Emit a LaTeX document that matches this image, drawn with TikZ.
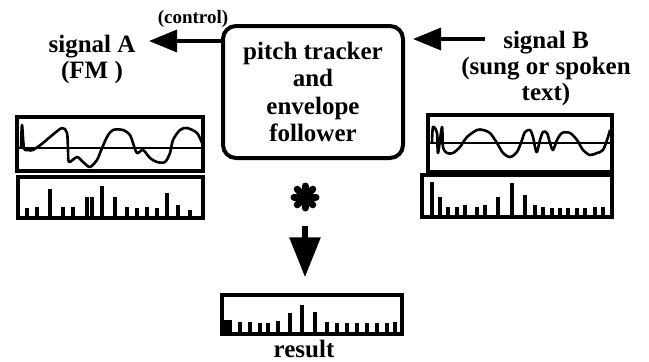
\documentclass[tikz,border=0pt]{standalone}
\usepackage{fontspec}
\setmainfont{Liberation Serif}
\usetikzlibrary{arrows.meta}

\tikzset{
  bigtext/.style={font=\bfseries\fontsize{25}{26}\selectfont, inner sep=0pt, align=center},
  smalltext/.style={font=\bfseries\fontsize{19}{20}\selectfont, inner sep=0pt},
  trackerbox/.style={draw, line width=4pt, rounded corners=13pt, inner sep=0pt,
    font=\bfseries\fontsize{25}{27.5}\selectfont, align=center},
  frame/.style={draw, line width=3.5pt, inner sep=0pt},
  bigarrow/.style={line width=3.5pt, -{Triangle[length=28pt,width=22pt]}},
  wave/.style={line width=2.6pt, line join=round},
  bar/.style={line width=4.5pt}
}

\begin{document}
\begin{tikzpicture}[x=1pt, y=-1pt]

\useasboundingbox (0,0) rectangle (649,362);

% main box
\node[trackerbox, minimum width=180pt, minimum height=132pt] (tracker) at (313,92)
  {pitch tracker\\and\\envelope\\follower};

% labels
\node[bigtext, anchor=base] (sigA) at (92,78) {signal A\\(FM )};
\node[bigtext, anchor=base] (sigB) at (546,100) {signal B\\(sung or spoken\\text)};
\node[smalltext, anchor=base] (ctrl) at (193,23) {(control)};
\node[bigtext, anchor=base] (res) at (304,357) {result};

% arrows in and out
\coordinate (outA) at (149,41);
\coordinate (inB) at (485,39);
\draw[bigarrow] (tracker.west |- outA) -- (outA);
\draw[bigarrow, shorten >=8pt] (inB) -- (tracker.east |- inB);

% boxes
\node[frame, minimum width=186pt, minimum height=54pt] (waveA) at (110,144) {};
\node[frame, minimum width=185pt, minimum height=41pt] (specA) at (110.5,197.5) {};
\node[frame, minimum width=184pt, minimum height=57pt] (waveB) at (520,143.5) {};
\node[frame, minimum width=190pt, minimum height=42pt] (specB) at (517,196) {};
\node[frame, minimum width=180pt, minimum height=39pt] (specR) at (312,314.5) {};

% waveform A
\draw[line width=1.8pt] (waveA.west |- 0,148) -- (waveA.east |- 0,148);
\draw[wave] plot[smooth, tension=0.5] coordinates {(21,148) (22,125) (24,148) (28,150)
  (33,150) (43,143) (50,137) (62,128) (67,133) (68,150) (69,162) (77,157) (83,162)
  (90,167) (97,160) (100,153) (107,137) (113,130) (123,130) (130,135) (133,143)
  (137,153) (143,150) (150,158) (157,162) (165,162) (170,153) (173,140) (180,130)
  (187,128) (197,133) (202,143)};

% waveform B
\draw[line width=1.8pt] (waveB.west |- 0,143) -- (waveB.east |- 0,143);
\draw[wave] plot[smooth, tension=0.5] coordinates {(432,143) (433,127) (437,133)
  (438,153) (442,127) (443,147) (447,153) (453,153) (460,147) (467,137) (477,130)
  (483,130) (490,133) (497,143) (503,153) (510,157) (517,152) (522,140) (525,132)
  (530,130) (533,137) (535,147) (537,152) (540,140) (543,132) (547,133) (550,143)
  (553,150) (557,140) (562,133) (570,133) (577,140) (583,150) (590,155) (597,153)
  (603,150) (608,137) (610,130)};

% spectrum A
\foreach \x/\y in {27/208, 37/207, 50/189, 63/207, 73/207, 87/197, 92/197, 102/186,
  115/197, 127/207, 137/208, 147/207, 157/208, 167/193, 178/205, 190/210}
  \draw[bar] (\x,216) -- (\x,\y);

% spectrum B
\foreach \x/\y in {432/182, 440/197, 448/207, 457/207, 465/205, 477/207, 485/205,
  498/197, 512/183, 525/195, 535/205, 543/207, 552/208, 560/208, 568/208, 577/208,
  585/208, 595/207, 603/207}
  \draw[bar] (\x,215) -- (\x,\y);

% spectrum result
\fill (222,320) rectangle (232,333);
\foreach \x/\y in {240/322, 250/322, 260/323, 268/323, 278/321, 290/313, 302/305,
  315/312, 327/322, 337/323, 347/323, 357/323, 367/323, 377/323, 387/323, 395/322}
  \draw[bar] (\x,332) -- (\x,\y);

% convolution
\coordinate (conv) at (305,197);
\foreach \a in {0,45,...,315}
  \draw[line width=7pt, line cap=round] (conv) -- ++(\a:11);
\draw[line width=6pt, -{Triangle[length=40pt,width=30pt]}, shorten <=29pt, shorten >=16pt]
  (conv) -- (conv |- specR.north);

\end{tikzpicture}
\end{document}
